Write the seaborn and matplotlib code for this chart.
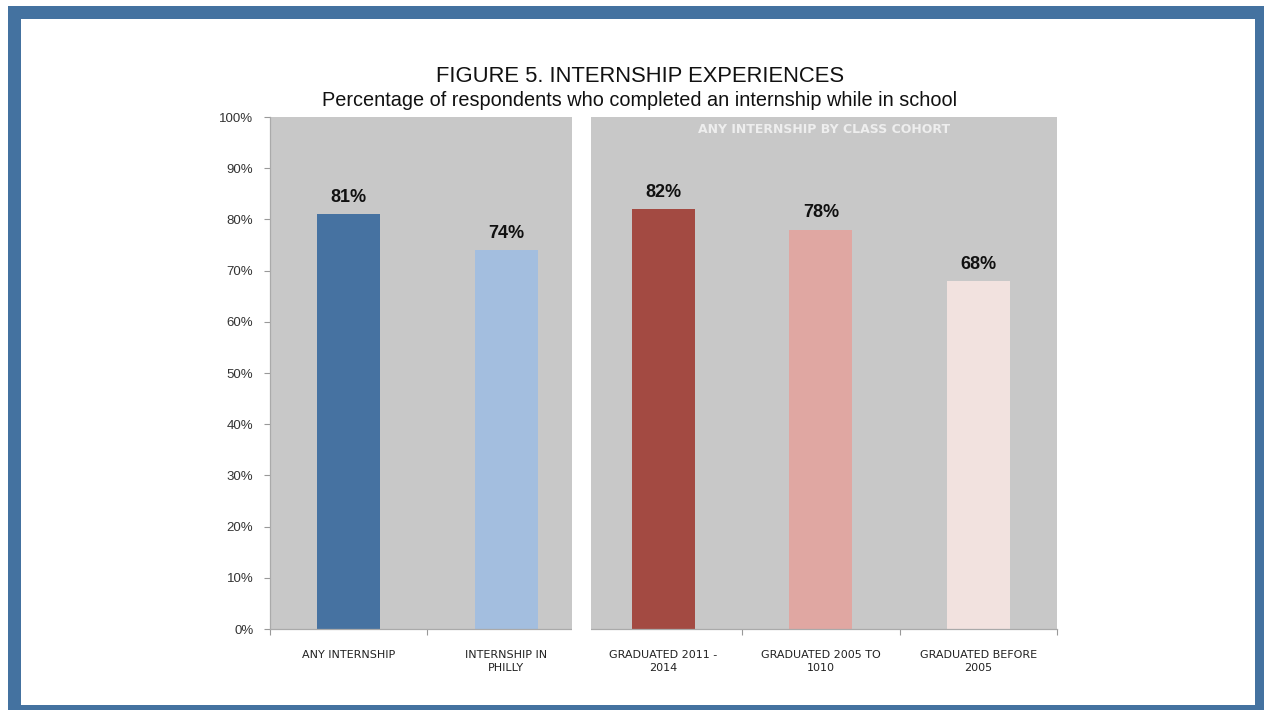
import matplotlib
matplotlib.use("Agg")
import matplotlib.pyplot as plt
import matplotlib.patches as mpatches
from matplotlib.ticker import FixedLocator, PercentFormatter
import seaborn as sns
import pandas as pd
from matplotlib import font_manager

# ---- data ----
categories = ["Any internship", "Internship in Philly", "Graduated 2011-2014",
              "Graduated 2005-2010", "Graduated before 2005"]
tick_labels = ["ANY INTERNSHIP", "INTERNSHIP IN\nPHILLY", "GRADUATED 2011 -\n2014",
               "GRADUATED 2005 TO\n1010", "GRADUATED BEFORE\n2005"]
values = [0.81, 0.74, 0.82, 0.78, 0.68]
bar_colors = ["#4672A1", "#A3BEDF", "#A34A42", "#E0A7A2", "#F2E2DF"]
title = "FIGURE 5. INTERNSHIP EXPERIENCES"
subtitle = "Percentage of respondents who completed an internship while in school"
panel_header = "ANY INTERNSHIP BY CLASS COHORT"

sns.set_theme(style="white")
names = {f.name for f in font_manager.fontManager.ttflist}
narrow = "Liberation Sans Narrow" if "Liberation Sans Narrow" in names else "Liberation Sans"
plt.rcParams["font.family"] = [narrow, "DejaVu Sans"]

df = pd.DataFrame({"category": categories, "value": values})

fig = plt.figure(figsize=(12.64, 7.10), dpi=100)
fig.patch.set_facecolor("white")
ax = fig.add_axes([270 / 1264, 1 - 629 / 710, (1057 - 270) / 1264, (629 - 117) / 710])

# gray background panels
gap_l, gap_r = 1.42, 1.54
ax.add_patch(mpatches.Rectangle((-0.5, 0), gap_l + 0.5, 1.0, facecolor="#C8C8C8",
                                edgecolor="none", zorder=0))
ax.add_patch(mpatches.Rectangle((gap_r, 0), 4.5 - gap_r, 1.0, facecolor="#C8C8C8",
                                edgecolor="none", zorder=0))

sns.barplot(data=df, x="category", y="value", hue="category", palette=bar_colors,
            width=0.4, legend=False, ax=ax, zorder=2, saturation=1, linewidth=0)

for cont in ax.containers:
    ax.bar_label(cont, labels=[f"{v*100:.0f}%" for v in cont.datavalues], padding=6,
                 fontsize=13, fontweight="bold", color="#111111")

ax.set_xlim(-0.5, 4.5)
ax.set_ylim(0, 1.0)
ax.set_yticks([i / 10 for i in range(11)])
ax.yaxis.set_major_formatter(PercentFormatter(1.0, decimals=0))
ax.set_xticks(range(len(categories)))
ax.set_xticklabels(tick_labels, fontsize=8, color="#222222", linespacing=1.45,
                   family="DejaVu Sans")
ax.xaxis.set_minor_locator(FixedLocator([-0.5, 0.5, 2.5, 3.5, 4.5]))
ax.tick_params(axis="x", which="major", length=0, pad=15)
ax.tick_params(axis="x", which="minor", length=4, color="#999999", width=0.8, bottom=True)
ax.tick_params(axis="y", which="major", length=4, color="#999999", width=0.8, left=True,
               labelsize=9.5, labelcolor="#333333", pad=8)
ax.set_xlabel("")
ax.set_ylabel("")
for s in ["top", "right"]:
    ax.spines[s].set_visible(False)
for s in ["left", "bottom"]:
    ax.spines[s].set_color("#AAAAAA")
    ax.spines[s].set_linewidth(0.9)

# white gap between panels, covering the axis line
ax.add_patch(mpatches.Rectangle((gap_l, -0.005), gap_r - gap_l, 1.01, facecolor="white",
                                edgecolor="none", zorder=3, clip_on=False))

ax.text((gap_r + 4.5) / 2, 0.975, panel_header, ha="center", va="center",
        fontsize=9, fontweight="bold", color="#EEEEEE", family="DejaVu Sans")

fig.text(640 / 1264, 1 - 77 / 710, title, ha="center", va="center", fontsize=15.8,
         color="#111111", family="Liberation Sans")
fig.text(640 / 1264, 1 - 100 / 710, subtitle, ha="center", va="center", fontsize=14.3,
         color="#111111", family="Liberation Sans")

# blue frame (four filled strips)
W, H = 1264, 710
frame = "#4472A0"
for (x0, y0, w, h) in [(8, 6, 1264 - 8, 13),      # top
                       (8, 6, 13, 710 - 6),       # left
                       (1255, 6, 9, 710 - 6),     # right
                       (8, 705, 1264 - 8, 5)]:    # bottom
    fig.patches.append(mpatches.Rectangle((x0 / W, 1 - (y0 + h) / H), w / W, h / H,
                                          transform=fig.transFigure, facecolor=frame,
                                          edgecolor="none", zorder=10))

fig.savefig("out.png", dpi=100)
